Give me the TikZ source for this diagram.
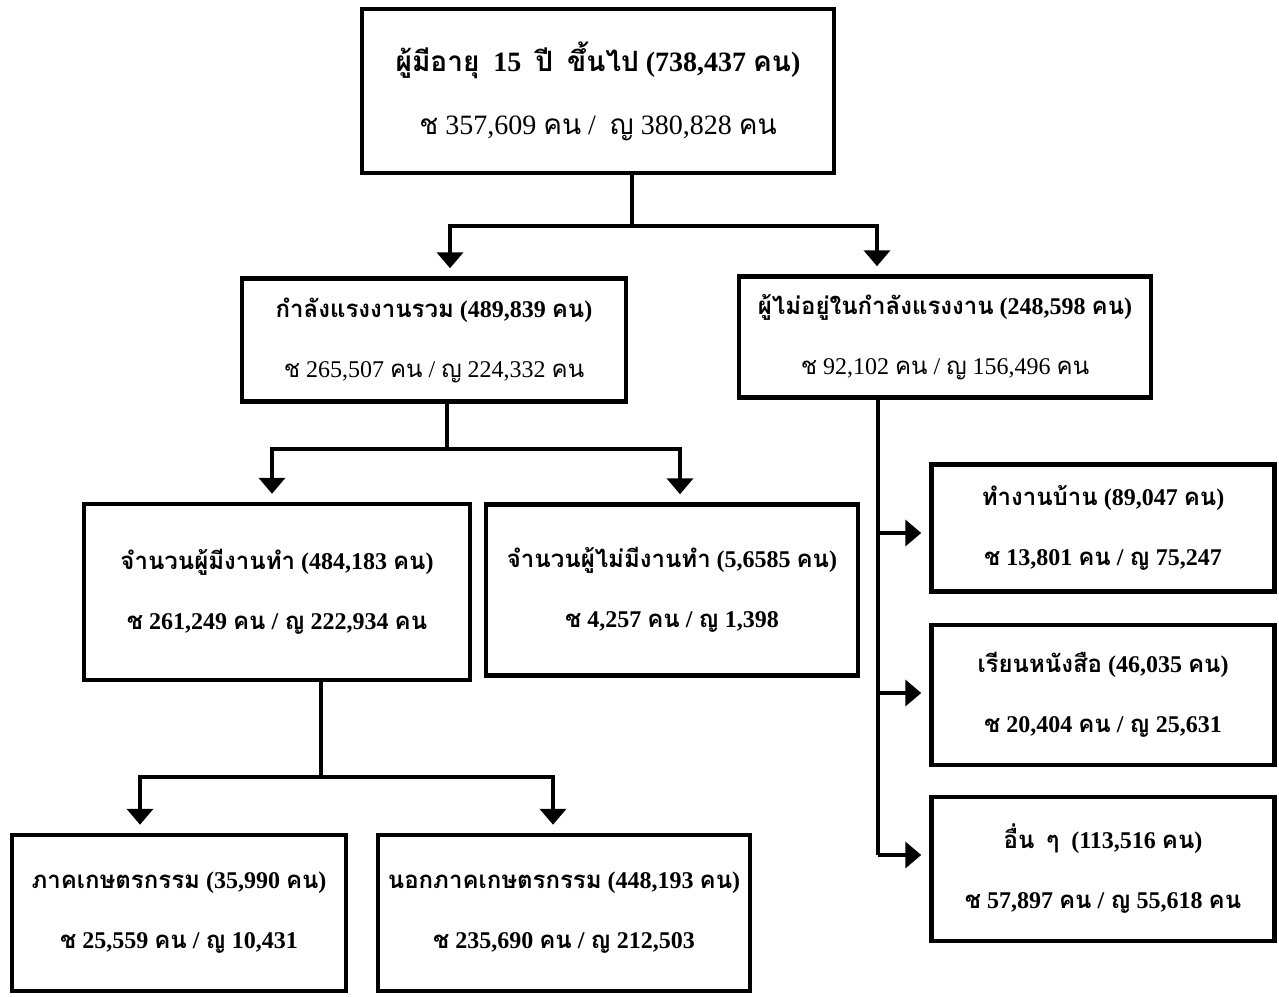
\documentclass[tikz,border=0pt]{standalone}
\usepackage{fontspec}
\setmainfont{Liberation Serif}
\newfontfamily\thaifont[Script=Thai]{Loma}
\newcommand{\tha}[1]{{\thaifont #1}}
\usetikzlibrary{arrows.meta}

\tikzset{
  box/.style={draw, line width=4.5pt, align=center, inner sep=0pt,
    font=\bfseries\fontsize{24}{60}\selectfont},
  bigbox/.style={box, font=\bfseries\fontsize{28}{63}\selectfont},
  link/.style={line width=4pt},
  arr/.style={line width=4pt, -{Triangle[width=26pt,length=16pt]}, shorten >=8pt},
}

\begin{document}
\begin{tikzpicture}[x=1pt,y=1pt,yscale=-1]
\useasboundingbox (0,0) rectangle (1279,996);

% boxes
\node[bigbox, minimum width=472pt, minimum height=164pt] (age) at (598,91)
  {\tha{ผู้มีอายุ}\ \ 15\ \ \tha{ปี}\ \ \tha{ขึ้นไป} (738,437 \tha{คน})\\
   \mdseries\tha{ช} 357,609 \tha{คน} /\ \ \tha{ญ} 380,828 \tha{คน}};
\node[box, minimum width=384pt, minimum height=123pt] (lf) at (434,340)
  {\tha{กำลังแรงงานรวม} (489,839 \tha{คน})\\
   \mdseries\tha{ช} 265,507 \tha{คน} / \tha{ญ} 224,332 \tha{คน}};
\node[box, minimum width=412pt, minimum height=121pt] (nilf) at (945,337)
  {\tha{ผู้ไม่อยู่ในกำลังแรงงาน} (248,598 \tha{คน})\\
   \mdseries\tha{ช} 92,102 \tha{คน} / \tha{ญ} 156,496 \tha{คน}};
\node[box, minimum width=386pt, minimum height=176pt] (emp) at (277,592)
  {\tha{จำนวนผู้มีงานทำ} (484,183 \tha{คน})\\
   \tha{ช} 261,249 \tha{คน} / \tha{ญ} 222,934 \tha{คน}};
\node[box, minimum width=372pt, minimum height=171pt] (unemp) at (672,590)
  {\tha{จำนวนผู้ไม่มีงานทำ} (5,6585 \tha{คน})\\
   \tha{ช} 4,257 \tha{คน} / \tha{ญ} 1,398};
\node[box, minimum width=343pt, minimum height=127pt] (house) at (1103,528)
  {\tha{ทำงานบ้าน} (89,047 \tha{คน})\\
   \tha{ช} 13,801 \tha{คน} / \tha{ญ} 75,247};
\node[box, minimum width=343pt, minimum height=140pt] (study) at (1103,695)
  {\tha{เรียนหนังสือ} (46,035 \tha{คน})\\
   \tha{ช} 20,404 \tha{คน} / \tha{ญ} 25,631};
\node[box, minimum width=343pt, minimum height=144pt] (other) at (1103,869)
  {\tha{อื่น}\ \ \tha{ๆ}\ \ (113,516 \tha{คน})\\
   \tha{ช} 57,897 \tha{คน} / \tha{ญ} 55,618 \tha{คน}};
\node[box, minimum width=334pt, minimum height=156pt] (agri) at (179,913)
  {\tha{ภาคเกษตรกรรม} (35,990 \tha{คน})\\
   \tha{ช} 25,559 \tha{คน} / \tha{ญ} 10,431};
\node[box, minimum width=372pt, minimum height=156pt] (nonagri) at (564,913)
  {\tha{นอกภาคเกษตรกรรม} (448,193 \tha{คน})\\
   \tha{ช} 235,690 \tha{คน} / \tha{ญ} 212,503};

% joints
\coordinate (j1) at (632,226);
\coordinate (j2) at (447,449);
\coordinate (j3) at (321,777);
\coordinate (j4) at (878,855);

% connectors
\draw[link] (j1 |- age.south) -- (j1);
\draw[arr] (j1) -| ([xshift=16pt]lf.north);
\draw[arr] (j1) -| ([xshift=-68pt]nilf.north);

\draw[link] (j2 |- lf.south) -- (j2);
\draw[arr] (j2) -| ([xshift=-5pt]emp.north);
\draw[arr] (j2) -| ([xshift=8pt]unemp.north);

\draw[link] (j3 |- emp.south) -- (j3);
\draw[arr] (j3) -| ([xshift=-39pt]agri.north);
\draw[arr] (j3) -| ([xshift=-11pt]nonagri.north);

\draw[link] (j4 |- nilf.south) -- (j4);
\draw[arr] (j4 |- 0,533) -- (house.west |- 0,533);
\draw[arr] (j4 |- 0,693) -- (study.west |- 0,693);
\draw[arr] (j4) -- (other.west |- j4);

\end{tikzpicture}
\end{document}
